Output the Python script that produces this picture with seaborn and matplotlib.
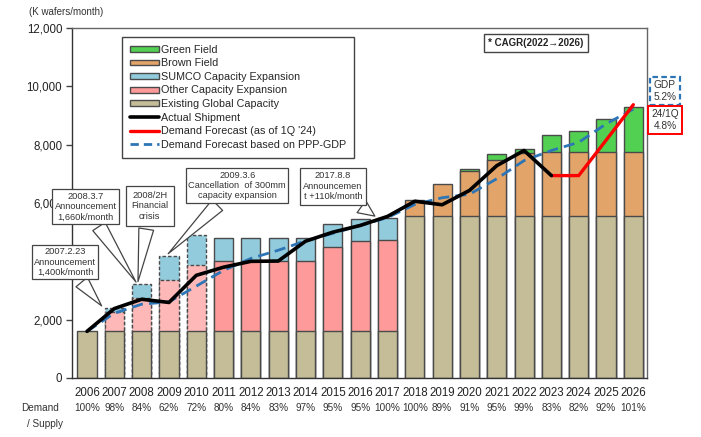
import numpy as np
import matplotlib
matplotlib.use("Agg")
import matplotlib.pyplot as plt
from matplotlib.patches import Patch
from matplotlib.lines import Line2D
from matplotlib.transforms import blended_transform_factory
import seaborn as sns

# ---- data (K wafers/month) ----
years = ["2006", "2007", "2008", "2009", "2010", "2011", "2012", "2013", "2014", "2015", "2016",
         "2017", "2018", "2019", "2020", "2021", "2022", "2023", "2024", "2025", "2026"]
existing = [1600, 1600, 1600, 1600, 1600, 1600, 1600, 1600, 1600, 1600, 1600,
            1600, 5540, 5540, 5540, 5540, 5540, 5540, 5540, 5540, 5540]
other_exp = [0, 650, 1130, 1775, 2265, 2410, 2410, 2410, 2410, 2890, 3085,
             3145, 0, 0, 0, 0, 0, 0, 0, 0, 0]
sumco_exp = [0, 150, 480, 820, 1025, 790, 790, 780, 780, 780, 755,
             750, 0, 0, 0, 0, 0, 0, 0, 0, 0]
brown_field = [0, 0, 0, 0, 0, 0, 0, 0, 0, 0, 0,
               0, 550, 1120, 1550, 1950, 2165, 2220, 2220, 2220, 2220]
green_field = [0, 0, 0, 0, 0, 0, 0, 0, 0, 0, 0,
               0, 0, 0, 80, 190, 150, 570, 700, 1120, 1540]
actual_years = years[:18]
actual_shipment = [1600, 2380, 2700, 2590, 3520, 3800, 4000, 4010, 4690, 5000, 5230,
                   5540, 6060, 5940, 6430, 7280, 7800, 6940]
forecast_years = ["2023", "2024", "2025", "2026"]
forecast_1q24 = [6940, 6940, 8150, 9370]
ppp_gdp = [1600, 2220, 2530, 2610, 3150, 3690, 4100, 4380, 4700, 4960, 5230,
           5500, 5950, 6180, 6300, 6830, 7455, 7800, 8080, 8710, 9220]
demand_supply = ["100%", "98%", "84%", "62%", "72%", "80%", "84%", "83%", "97%", "95%", "95%",
                 "100%", "100%", "89%", "91%", "95%", "99%", "83%", "82%", "92%", "101%"]
planned_years = ["2007", "2008", "2009", "2010"]   # expansions shown as planned (dashed)

# ---- style ----
sns.set_theme(style="white")
plt.rcParams["font.family"] = ["Liberation Sans", "DejaVu Sans"]

C_GREEN = "#52d052"
C_BROWN = "#e2a468"
C_SUMCO = "#92cbdc"
C_OTHER = "#ff9a9a"
C_OTHER_PLAN = "#ffb8b8"
C_EXIST = "#c5bd98"
C_EDGE = "#4a4a4a"

fig = plt.figure(figsize=(7.01, 4.37), dpi=100)
ax = fig.add_axes([72 / 701, 59 / 437, 575 / 701, 350 / 437])

# cumulative stack tops
exist_a = np.array(existing)
other_top = exist_a + np.array(other_exp)
sumco_top = other_top + np.array(sumco_exp)
brown_top = sumco_top + np.array(brown_field)
green_top = brown_top + np.array(green_field)

layers = [
    (green_top, green_field, C_GREEN),
    (brown_top, brown_field, C_BROWN),
    (sumco_top, sumco_exp, C_SUMCO),
    (other_top, other_exp, C_OTHER),
    (exist_a, existing, C_EXIST),
]
for tops, seg, col in layers:
    n0 = len(ax.patches)
    sns.barplot(x=years, y=tops, color=col, saturation=1, width=0.7,
                edgecolor=C_EDGE, linewidth=1.0, ax=ax, zorder=2)
    new = ax.patches[n0:]
    for yr, p, s in zip(years, new, seg):
        if s == 0:
            p.set_visible(False)
        elif yr in planned_years and col in (C_SUMCO, C_OTHER):
            p.set_linestyle((0, (2.5, 1.5)))
            if col == C_OTHER:
                p.set_facecolor(C_OTHER_PLAN)

pos = {y: i for i, y in enumerate(years)}

# lines
sns.lineplot(x=[pos[y] for y in years], y=ppp_gdp, ax=ax, color="#2e75b6",
             lw=2.0, linestyle=(0, (4, 2.2)), zorder=4)
sns.lineplot(x=[pos[y] for y in forecast_years], y=forecast_1q24, ax=ax, color="#ff0000",
             lw=2.4, zorder=5)
sns.lineplot(x=[pos[y] for y in actual_years], y=actual_shipment, ax=ax, color="black",
             lw=2.6, zorder=6)

# axes
ax.set_xlim(-0.55, 20.5)
ax.set_ylim(0, 12000)
ax.set_yticks(np.arange(0, 12001, 2000))
ax.set_yticklabels([f"{int(v):,}" for v in np.arange(0, 12001, 2000)], fontsize=8.3)
ax.set_xticks(range(len(years)))
ax.set_xticklabels(years, fontsize=8.3)
ax.set_xticks(np.arange(-0.5, len(years), 1.0), minor=True)
ax.tick_params(axis="x", which="major", length=0, pad=6.5, colors="#222222")
ax.tick_params(axis="x", which="minor", length=4, width=1, color="#444444", direction="out")
ax.tick_params(axis="y", length=4, width=1, color="#444444", direction="out", pad=3,
               labelcolor="#222222", left=True)
ax.set_xlabel("")
ax.set_ylabel("")
for sp in ax.spines.values():
    sp.set_color("#666666")
    sp.set_linewidth(1.0)
ax.spines["left"].set_color("#333333")
ax.spines["bottom"].set_color("#333333")

# demand / supply ratio row
tr = blended_transform_factory(ax.transData, fig.transFigure)
for i, s in enumerate(demand_supply):
    ax.text(i, (437 - 408) / 437, s, transform=tr, ha="center", va="center",
            fontsize=7.2, color="#333333", clip_on=False)
fig.text(40 / 701, (437 - 408) / 437, "Demand", ha="center", va="center", fontsize=7.2, color="#333333")
fig.text(45 / 701, (437 - 424) / 437, "/ Supply", ha="center", va="center", fontsize=7.2, color="#333333")

fig.text(29 / 701, (437 - 12) / 437, "(K wafers/month)", ha="left", va="center", fontsize=7, color="#333333")

# legend
handles = [
    Patch(facecolor=C_GREEN, edgecolor=C_EDGE, label="Green Field"),
    Patch(facecolor=C_BROWN, edgecolor=C_EDGE, label="Brown Field"),
    Patch(facecolor=C_SUMCO, edgecolor=C_EDGE, label="SUMCO Capacity Expansion"),
    Patch(facecolor=C_OTHER, edgecolor=C_EDGE, label="Other Capacity Expansion"),
    Patch(facecolor=C_EXIST, edgecolor=C_EDGE, label="Existing Global Capacity"),
    Line2D([], [], color="black", lw=2.6, label="Actual Shipment"),
    Line2D([], [], color="#ff0000", lw=2.4, label="Demand Forecast (as of 1Q '24)"),
    Line2D([], [], color="#2e75b6", lw=2.0, linestyle=(0, (3, 1.8)),
           label="Demand Forecast based on PPP-GDP"),
]
leg = ax.legend(handles=handles, loc="upper left", bbox_to_anchor=(0.087, 0.975),
                borderaxespad=0, frameon=True, fancybox=False, fontsize=7.75,
                handlelength=2.7, handleheight=0.45, handletextpad=0.15,
                labelspacing=0.33, borderpad=0.75, framealpha=1)
leg.get_frame().set_edgecolor("#444444")
leg.get_frame().set_linewidth(1.0)
leg.set_zorder(10)

# CAGR note
ax.text(0.807, 0.957, "* CAGR(2022\u21922026)", transform=ax.transAxes, ha="center", va="center",
        fontsize=7, fontweight="bold", color="#222222",
        bbox=dict(boxstyle="square,pad=0.4", fc="white", ec="#444444", lw=1.0), zorder=10)

# CAGR boxes to the right
fig.text(665 / 701, (437 - 91) / 437, "GDP\n5.2%", ha="center", va="center", fontsize=7.3,
         color="#333333", linespacing=1.15,
         bbox=dict(boxstyle="square,pad=0.3", fc="white", ec="#2e75b6", lw=1.6, ls=(0, (2.5, 1.5))))
fig.text(665 / 701, (437 - 120) / 437, "24/1Q\n4.8%", ha="center", va="center", fontsize=7.3,
         color="#333333", linespacing=1.15,
         bbox=dict(boxstyle="square,pad=0.3", fc="white", ec="#ff0000", lw=1.4))

# call-out boxes
arrow = dict(arrowstyle="wedge,tail_width=1.6,shrink_factor=0.5", fc="white", ec="#444444", lw=0.9)
callouts = [
    ("2007.2.23\nAnnouncement\n1,400k/month", "2007", -0.4, (-0.8, 3970), 0.25),
    ("2008.3.7\nAnnouncement\n1,660k/month", "2008", -0.15, (-0.05, 5880), 0.25),
    ("2008/2H\nFinancial\ncrisis", "2008", -0.15, (2.3, 5900), 0.55),
    ("2009.3.6\nCancellation  of 300mm\ncapacity expansion", "2009", -0.1, (5.5, 6600), 0.25),
    ("2017.8.8\nAnnouncemen\nt +110k/month", "2017", -0.38, (9.0, 6570), 0.35),
]
for txt, yr, dx, xyt, pad in callouts:
    i = pos[yr]
    ax.annotate(txt, xy=(i + dx, sumco_top[i]), xytext=xyt, ha="center", va="center",
                fontsize=6.7, color="#333333", linespacing=1.2,
                bbox=dict(boxstyle=f"square,pad={pad}", fc="white", ec="#444444", lw=0.9),
                arrowprops=arrow, zorder=8, annotation_clip=False)

fig.savefig("out.png", dpi=100)
